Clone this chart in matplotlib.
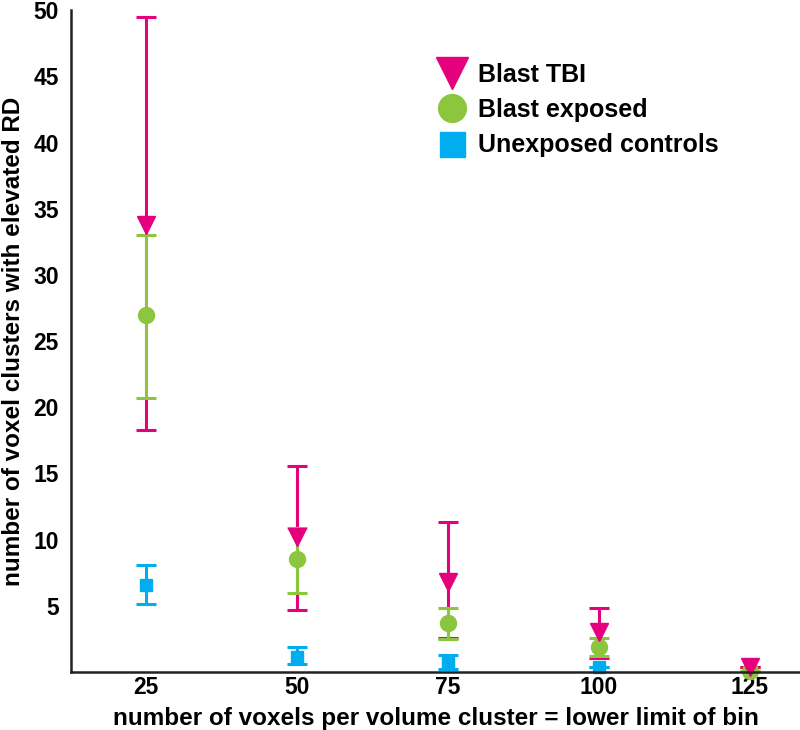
import numpy as np
import matplotlib.pyplot as plt
from matplotlib.lines import Line2D

plt.rcParams['font.family'] = ['Liberation Sans', 'DejaVu Sans']
plt.rcParams['font.weight'] = 'bold'

bins = [25, 50, 75, 100, 125]

tbi = [33.8, 10.2, 6.8, 3.0, 0.4]
tbi_lo = [18.3, 4.7, 2.6, 1.05, np.nan]
tbi_hi = [49.5, 15.6, 11.3, 4.8, np.nan]

exp_ = [27.0, 8.5, 3.7, 1.9, 0.1]
exp_lo = [20.7, 6.0, 2.5, 1.2, np.nan]
exp_hi = [33.0, 10.9, 4.8, 2.6, np.nan]

ctl = [6.6, 1.15, 0.75, 0.4, np.nan]
ctl_lo = [5.1, 0.6, 0.2, np.nan, np.nan]
ctl_hi = [8.1, 1.9, 1.3, np.nan, np.nan]

labels = ['Blast TBI', 'Blast exposed', 'Unexposed controls']
colors = ['#E5007D', '#8CC63F', '#00ADEE']
markers = ['v', 'o', 's']
msizes = [13.5, 11.5, 8]

fig = plt.figure(figsize=(8, 7.3), dpi=100)
ax = fig.add_axes([0.089, 0.0795, 0.911, 0.9065])

series = [(tbi, tbi_lo, tbi_hi), (exp_, exp_lo, exp_hi), (ctl, ctl_lo, ctl_hi)]
for i, ((y, lo, hi), c, m, ms) in enumerate(zip(series, colors, markers, msizes)):
    y = np.array(y, dtype=float)
    err = np.array([y - np.array(lo), np.array(hi) - y])
    err = np.nan_to_num(err)
    eb = ax.errorbar(bins, y, yerr=err, fmt=m, color=c, ms=ms, mec=c,
                     elinewidth=2.2, capsize=7, capthick=2.2, clip_on=False)
    if i == 0:
        eb[0].set_zorder(2.5)  # triangles sit over the green dots

ax.set_xlim(12.6, 133.3)
ax.set_ylim(0, 50)
ax.set_xticks(bins)
ax.set_yticks([5, 10, 15, 20, 25, 30, 35, 40, 45, 50])
ax.tick_params(length=0, labelsize=16.5, pad=3)
ax.tick_params(axis='y', pad=9)
for s in ['top', 'right']:
    ax.spines[s].set_visible(False)
for s in ['left', 'bottom']:
    ax.spines[s].set_linewidth(1.8)
    ax.spines[s].set_color('#222222')

ax.set_xlabel('number of voxels per volume cluster = lower limit of bin',
              fontsize=17.5, fontweight='bold', va='bottom')
ax.xaxis.set_label_coords(0.5, -0.0875)
ax.set_ylabel('number of voxel clusters with elevated RD',
              fontsize=17.5, fontweight='bold')
ax.yaxis.set_label_coords(-0.063, 0.5)

handles = [Line2D([], [], ls='none', marker=m, color=c, ms=ms)
           for c, m, ms in zip(colors, markers, [23, 20, 18])]
fig.legend(handles, labels, loc='upper left', bbox_to_anchor=(0.546, 0.914),
           frameon=False, fontsize=18, handletextpad=0.45, labelspacing=0.45,
           handlelength=1.2, borderpad=0, borderaxespad=0)

fig.savefig('out.png', dpi=100)
